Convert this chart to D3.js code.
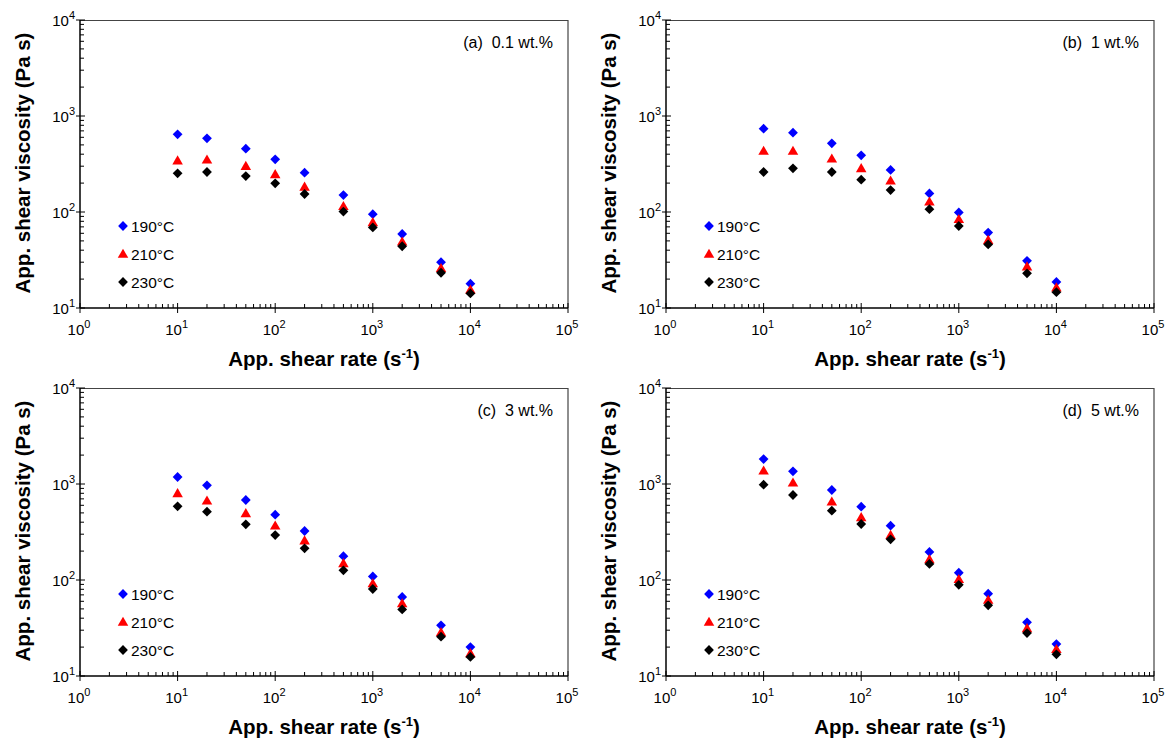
<!DOCTYPE html>
<html><head><meta charset="utf-8">
<script src="https://cdn.jsdelivr.net/npm/d3@7"></script>
<style>body{margin:0;background:#fff}svg{display:block}text{font-family:Arial,"Liberation Sans",sans-serif}</style>
</head><body>
<svg id="c" width="1169" height="744"></svg>
<script>
const shearRates = [10, 20, 50, 100, 200, 500, 1000, 2000, 5000, 10000];
const seriesNames = ["190°C", "210°C", "230°C"];
const seriesColors = ["#0000ff", "#ff0000", "#000000"];
const seriesShapes = ["diamond", "triangle", "diamond"];
const panelLabels = ["(a)  0.1 wt.%", "(b)  1 wt.%", "(c)  3 wt.%", "(d)  5 wt.%"];
const xTickExps = [0, 1, 2, 3, 4, 5];
const yTickExps = [1, 2, 3, 4];

const a190 = [644, 586, 457, 354, 257, 150, 95, 59, 30, 17.9];
const a210 = [343, 350, 301, 247, 183, 115, 78, 49, 26, 15.5];
const a230 = [253, 261, 237, 199, 154, 101, 69, 44, 23.3, 14.2];
const b190 = [738, 670, 519, 389, 274, 156, 99, 61, 31, 18.7];
const b210 = [432, 432, 359, 285, 212, 128, 84, 51, 27, 16.3];
const b230 = [261, 285, 261, 217, 169, 107, 71.5, 46, 23, 14.6];
const c190 = [1183, 969, 681, 479, 324, 177, 109, 66.5, 33.7, 20];
const c210 = [800, 670, 495, 368, 257, 149, 92, 57, 28.5, 17.2];
const c230 = [585, 515, 380, 294, 214, 126, 80.6, 49.4, 25.7, 15.8];
const d190 = [1820, 1355, 866, 580, 368, 196, 119, 72, 36.2, 21.5];
const d210 = [1376, 1032, 654, 450, 294, 164, 102, 62, 31.4, 19];
const d230 = [984, 768, 527, 383, 265, 147, 89, 54.5, 28, 16.8];

const panels = [
  {label: panelLabels[0], series: [a190, a210, a230], ox: 80, oy: 20},
  {label: panelLabels[1], series: [b190, b210, b230], ox: 666, oy: 20},
  {label: panelLabels[2], series: [c190, c210, c230], ox: 80, oy: 388},
  {label: panelLabels[3], series: [d190, d210, d230], ox: 666, oy: 388}
];

const W = 488, H = 288;
const svg = d3.select("#c");

function marker(shape) {
  if (shape === "triangle") return d3.symbol().type(d3.symbolTriangle).size(48)();
  return d3.symbol().type(d3.symbolSquare).size(48)();
}
function markerTransform(shape, x, y) {
  return shape === "triangle" ? `translate(${x},${y+0.8})` : `translate(${x},${y}) rotate(45)`;
}

panels.forEach(p => {
  const g = svg.append("g").attr("transform", `translate(${p.ox},${p.oy})`);
  const x = d3.scaleLog().domain([1, 1e5]).range([0, W]);
  const y = d3.scaleLog().domain([10, 1e4]).range([H, 0]);

  // box top/right
  g.append("path").attr("d", `M0,0.5H${W}V${H}`).attr("fill", "none").attr("stroke", "#444").attr("stroke-width", 1.2);

  // minor ticks
  const minorX = [], minorY = [];
  for (let e = 0; e < 5; e++) for (let m = 2; m <= 9; m++) minorX.push(m * Math.pow(10, e));
  for (let e = 1; e < 4; e++) for (let m = 2; m <= 9; m++) minorY.push(m * Math.pow(10, e));
  g.selectAll(".mx").data(minorX).join("line")
    .attr("x1", d => x(d)).attr("x2", d => x(d)).attr("y1", H).attr("y2", H - 4)
    .attr("stroke", "#000").attr("stroke-width", 1);
  g.selectAll(".my").data(minorY).join("line")
    .attr("x1", 0).attr("x2", 4).attr("y1", d => y(d)).attr("y2", d => y(d))
    .attr("stroke", "#000").attr("stroke-width", 1);
  // major ticks
  g.selectAll(".Mx").data(xTickExps).join("line")
    .attr("x1", d => x(Math.pow(10, d))).attr("x2", d => x(Math.pow(10, d)))
    .attr("y1", H - 5).attr("y2", H + 5).attr("stroke", "#000").attr("stroke-width", 1);
  g.selectAll(".My").data(yTickExps).join("line")
    .attr("x1", -4).attr("x2", 5).attr("y1", d => y(Math.pow(10, d))).attr("y2", d => y(Math.pow(10, d)))
    .attr("stroke", "#000").attr("stroke-width", 1);
  // axes lines
  g.append("line").attr("x1", 0).attr("x2", W).attr("y1", H).attr("y2", H).attr("stroke", "#000").attr("stroke-width", 1.5);
  g.append("line").attr("x1", 0).attr("x2", 0).attr("y1", 0).attr("y2", H).attr("stroke", "#000").attr("stroke-width", 1.5);

  // tick labels
  const xl = g.selectAll(".xl").data(xTickExps).join("text")
    .attr("x", d => x(Math.pow(10, d)) - 1).attr("y", H + 27).attr("text-anchor", "middle")
    .attr("font-size", 15).attr("fill", "#000");
  xl.append("tspan").text("10");
  xl.append("tspan").attr("dy", -7).attr("font-size", 11).text(d => d);
  const yl = g.selectAll(".yl").data(yTickExps).join("text")
    .attr("x", -5).attr("y", d => y(Math.pow(10, d)) + 6).attr("text-anchor", "end")
    .attr("font-size", 15).attr("fill", "#000");
  yl.append("tspan").text("10");
  yl.append("tspan").attr("dy", -7).attr("font-size", 11).text(d => d);

  // axis titles
  const xt = g.append("text").attr("x", W / 2).attr("y", H + 58).attr("text-anchor", "middle")
    .attr("font-size", 20.5).attr("font-weight", "bold");
  xt.append("tspan").text("App. shear rate (s");
  xt.append("tspan").attr("dy", -8).attr("font-size", 13).text("-1");
  xt.append("tspan").attr("dy", 8).text(")");
  g.append("text").attr("transform", `translate(-50,${H / 2 - 1}) rotate(-90)`).attr("text-anchor", "middle")
    .attr("font-size", 20.5).attr("font-weight", "bold").text("App. shear viscosity (Pa s)");

  // panel label
  g.append("text").attr("x", W - 15).attr("y", 28).attr("text-anchor", "end").attr("font-size", 16)
    .style("white-space", "pre").text(p.label);

  // data
  p.series.forEach((vals, si) => {
    g.selectAll(".s" + si).data(vals).join("path")
      .attr("d", marker(seriesShapes[si]))
      .attr("transform", (v, i) => markerTransform(seriesShapes[si], x(shearRates[i]), y(v)))
      .attr("fill", seriesColors[si]);
  });

  // legend
  seriesNames.forEach((n, si) => {
    const ly = 206 + si * 28;
    g.append("path").attr("d", marker(seriesShapes[si]))
      .attr("transform", markerTransform(seriesShapes[si], 43, ly)).attr("fill", seriesColors[si]);
    g.append("text").attr("x", 51).attr("y", ly + 5.5).attr("font-size", 15.5).text(n);
  });
});
</script>
</body></html>
